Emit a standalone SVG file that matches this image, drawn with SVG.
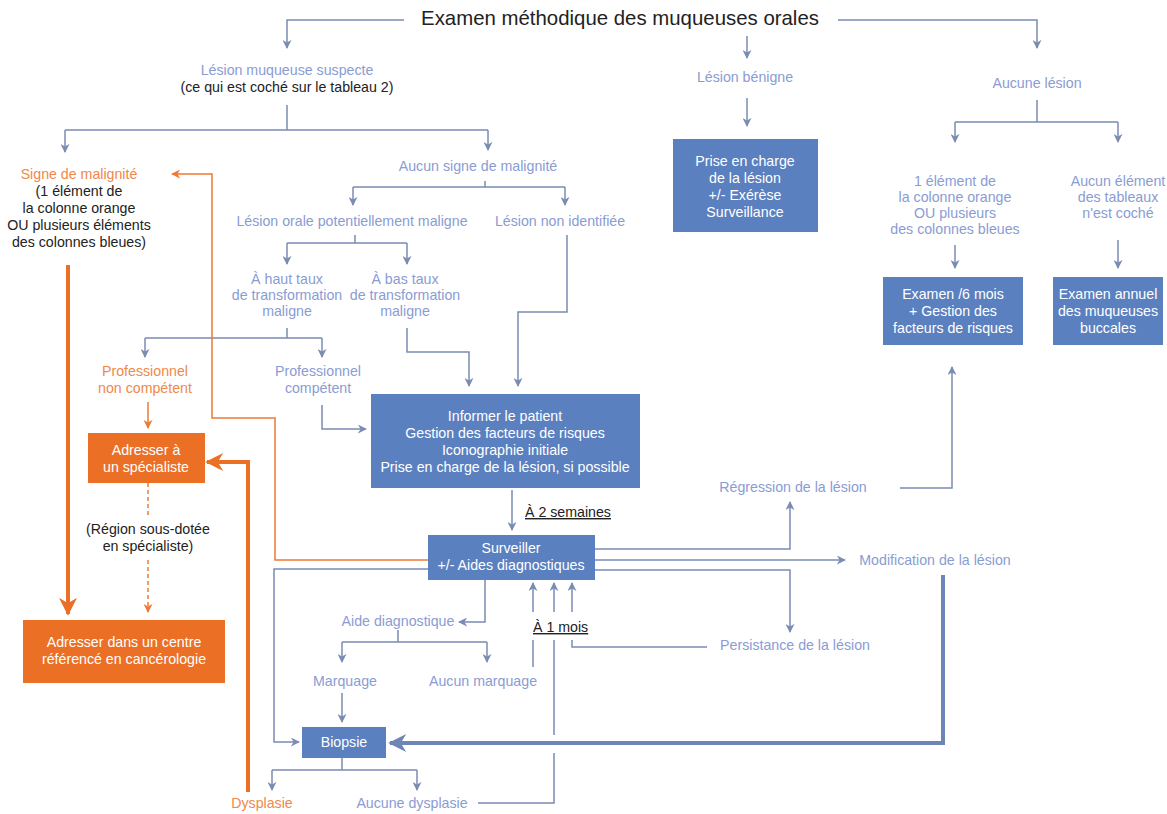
<svg xmlns="http://www.w3.org/2000/svg" width="1167" height="814" viewBox="0 0 1167 814">
<defs>
<marker id="a" viewBox="0 0 10 10" refX="9" refY="5" markerWidth="9" markerHeight="9" markerUnits="userSpaceOnUse" orient="auto"><path d="M0,0 L10,5 L0,10 L3,5 z" fill="#7b8cb3"/></marker>
<marker id="ao" viewBox="0 0 10 10" refX="9" refY="5" markerWidth="9" markerHeight="9" markerUnits="userSpaceOnUse" orient="auto"><path d="M0,0 L10,5 L0,10 L3,5 z" fill="#ee7a35"/></marker>
<marker id="ab" viewBox="0 0 10 10" refX="9" refY="5" markerWidth="22" markerHeight="18" markerUnits="userSpaceOnUse" orient="auto"><path d="M0,0 L10,5 L0,10 L3,5 z" fill="#6d86b5"/></marker>
<marker id="aob" viewBox="0 0 10 10" refX="9" refY="5" markerWidth="22" markerHeight="18" markerUnits="userSpaceOnUse" orient="auto"><path d="M0,0 L10,5 L0,10 L3,5 z" fill="#ec6f26"/></marker>
</defs>
<style>
text{font-family:"Liberation Sans",Arial,sans-serif;font-size:14.2px;text-anchor:middle}
.t{fill:#222;font-size:20.4px}
.l{fill:#8a9cd3}
.d{fill:#222}
.o{fill:#f0884a}
.w{fill:#fff}
.bb{fill:#5b80bf}
.ob{fill:#ec6f26}
.c{fill:none;stroke:#7b8cb3;stroke-width:1.5}
.ca{fill:none;stroke:#7b8cb3;stroke-width:1.5;marker-end:url(#a)}
.co{fill:none;stroke:#ee7a35;stroke-width:1.5}
.coa{fill:none;stroke:#ee7a35;stroke-width:1.5;marker-end:url(#ao)}
.big{fill:none;stroke:#6d86b5;stroke-width:4;marker-end:url(#ab)}
.bigo{fill:none;stroke:#ec6f26;stroke-width:4;marker-end:url(#aob)}
.u{text-decoration:underline;text-anchor:start}
</style>
<rect width="1167" height="814" fill="#fff"/>
<g id="connectors">
<path class="ca" d="M404,20 H287 V48"/>
<path class="ca" d="M838,20 H1037 V48"/>
<path class="ca" d="M747,36 V58"/>
<path class="c" d="M287,105 V130 M65,130 H488"/>
<path class="ca" d="M65,130 V152"/>
<path class="ca" d="M488,130 V150"/>
<path class="c" d="M485,181 V187 M353,187 H565"/>
<path class="ca" d="M353,187 V205"/>
<path class="ca" d="M565,187 V205"/>
<path class="c" d="M355,235 V243 M287,243 H407"/>
<path class="ca" d="M287,243 V264"/>
<path class="ca" d="M407,243 V264"/>
<path class="ca" d="M567,235 V312 H518 V386"/>
<path class="ca" d="M407,328 V352 H469 V386"/>
<path class="c" d="M287,328 V338 M145,338 H322"/>
<path class="ca" d="M145,338 V357"/>
<path class="ca" d="M322,338 V357"/>
<path class="coa" d="M148,402 V428"/>
<path class="ca" d="M322,405 V429 H366"/>
<path class="ca" d="M512,490 V530"/>
<path class="ca" d="M485,580 V622 H459"/>
<path class="c" d="M398,630 V642 M342,642 H487"/>
<path class="ca" d="M342,642 V662"/>
<path class="ca" d="M487,642 V662"/>
<path class="ca" d="M342,693 V722"/>
<path class="c" d="M342,758 V770 M272,770 H417"/>
<path class="ca" d="M272,770 V790"/>
<path class="ca" d="M417,770 V790"/>
<path class="c" d="M478,803 H554 V753 M554,735 V640 M533,667 V640 M707,647 H572 V640"/>
<path class="ca" d="M533,612 V583"/>
<path class="ca" d="M554,612 V583"/>
<path class="ca" d="M572,612 V583"/>
<path class="ca" d="M595,549 H790 V502"/>
<path class="ca" d="M595,560 H845"/>
<path class="ca" d="M595,570 H790 V632"/>
<path class="ca" d="M900,488 H952 V367"/>
<path class="ca" d="M428,569 H274 V742 H299"/>
<path class="big" d="M943,575 V743 H390"/>
<path class="c" d="M1037,100 V122 M955,122 H1118"/>
<path class="ca" d="M955,122 V142"/>
<path class="ca" d="M1118,122 V142"/>
<path class="ca" d="M955,245 V268"/>
<path class="ca" d="M1118,240 V268"/>
<path class="ca" d="M747,98 V126"/>
<path class="bigo" d="M68,265 V614"/>
<path class="bigo" d="M248,792 V462 H207"/>
<path class="coa" d="M428,560 H275 V418 H212 V174 H172"/>
<path class="co" d="M148,483 V517" stroke-dasharray="4,3"/>
<path class="coa" d="M148,560 V612" stroke-dasharray="4,3"/>
</g>
<g id="title"><text class="t" x="620" y="25">Examen méthodique des muqueuses orales</text></g>
<g id="lesion-suspecte"><text class="l" x="287" y="75">Lésion muqueuse suspecte</text><text class="d" x="287" y="92">(ce qui est coché sur le tableau 2)</text></g>
<g id="lesion-benigne"><text class="l" x="745" y="82">Lésion bénigne</text></g>
<g id="aucune-lesion"><text class="l" x="1037" y="88">Aucune lésion</text></g>
<g id="signe"><text class="o" x="79" y="179">Signe de malignité</text><text class="d" x="79" y="196">(1 élément de</text><text class="d" x="79" y="213">la colonne orange</text><text class="d" x="79" y="230">OU plusieurs éléments</text><text class="d" x="79" y="247">des colonnes bleues)</text></g>
<g id="aucun-signe"><text class="l" x="478" y="171">Aucun signe de malignité</text></g>
<g id="lopm"><text class="l" x="352" y="226">Lésion orale potentiellement maligne</text></g>
<g id="non-identifiee"><text class="l" x="560" y="226">Lésion non identifiée</text></g>
<g id="haut"><text class="l" x="287" y="284">À haut taux</text><text class="l" x="287" y="300">de transformation</text><text class="l" x="287" y="316">maligne</text></g>
<g id="bas"><text class="l" x="405" y="284">À bas taux</text><text class="l" x="405" y="300">de transformation</text><text class="l" x="405" y="316">maligne</text></g>
<g id="pro-non"><text class="o" x="145" y="376">Professionnel</text><text class="o" x="145" y="393">non compétent</text></g>
<g id="pro-comp"><text class="l" x="318" y="376">Professionnel</text><text class="l" x="318" y="393">compétent</text></g>
<g id="informer"><rect class="bb" x="371" y="394" width="269" height="94"/><text class="w" x="505" y="421">Informer le patient</text><text class="w" x="505" y="438">Gestion des facteurs de risques</text><text class="w" x="505" y="455">Iconographie initiale</text><text class="w" x="505" y="472">Prise en charge de la lésion, si possible</text></g>
<g id="deux-semaines"><text class="d u" x="525" y="517">À 2 semaines</text></g>
<g id="surveiller"><rect class="bb" x="428" y="535" width="167" height="45"/><text class="w" x="511" y="553">Surveiller</text><text class="w" x="511" y="570">+/- Aides diagnostiques</text></g>
<g id="aide"><text class="l" x="398" y="626">Aide diagnostique</text></g>
<g id="un-mois"><text class="d u" x="533" y="632">À 1 mois</text></g>
<g id="marquage"><text class="l" x="345" y="686">Marquage</text></g>
<g id="aucun-marquage"><text class="l" x="483" y="686">Aucun marquage</text></g>
<g id="biopsie"><rect class="bb" x="302" y="727" width="84" height="31"/><text class="w" x="344" y="747">Biopsie</text></g>
<g id="dysplasie"><text class="o" x="262" y="808">Dysplasie</text></g>
<g id="aucune-dysplasie"><text class="l" x="412" y="808">Aucune dysplasie</text></g>
<g id="regression"><text class="l" x="793" y="492">Régression de la lésion</text></g>
<g id="modification"><text class="l" x="935" y="565">Modification de la lésion</text></g>
<g id="persistance"><text class="l" x="795" y="650">Persistance de la lésion</text></g>
<g id="prise-charge"><rect class="bb" x="673" y="139" width="145" height="93"/><text class="w" x="745" y="166">Prise en charge</text><text class="w" x="745" y="183">de la lésion</text><text class="w" x="745" y="200">+/- Exérèse</text><text class="w" x="745" y="217">Surveillance</text></g>
<g id="un-element"><text class="l" x="955" y="186">1 élément de</text><text class="l" x="955" y="202">la colonne orange</text><text class="l" x="955" y="218">OU plusieurs</text><text class="l" x="955" y="234">des colonnes bleues</text></g>
<g id="aucun-element"><text class="l" x="1118" y="186">Aucun élément</text><text class="l" x="1118" y="202">des tableaux</text><text class="l" x="1118" y="218">n'est coché</text></g>
<g id="examen-6"><rect class="bb" x="883" y="277" width="140" height="68"/><text class="w" x="953" y="299">Examen /6 mois</text><text class="w" x="953" y="316">+ Gestion des</text><text class="w" x="953" y="333">facteurs de risques</text></g>
<g id="examen-annuel"><rect class="bb" x="1053" y="277" width="110" height="68"/><text class="w" x="1108" y="299">Examen annuel</text><text class="w" x="1108" y="316">des muqueuses</text><text class="w" x="1108" y="333">buccales</text></g>
<g id="adresser-spec"><rect class="ob" x="88" y="433" width="117" height="50"/><text class="w" x="146" y="455">Adresser à</text><text class="w" x="146" y="472">un spécialiste</text></g>
<g id="region"><text class="d" x="148" y="534">(Région sous-dotée</text><text class="d" x="148" y="551">en spécialiste)</text></g>
<g id="adresser-centre"><rect class="ob" x="23" y="620" width="202" height="63"/><text class="w" x="124" y="647">Adresser dans un centre</text><text class="w" x="124" y="664">référencé en cancérologie</text></g>
</svg>
